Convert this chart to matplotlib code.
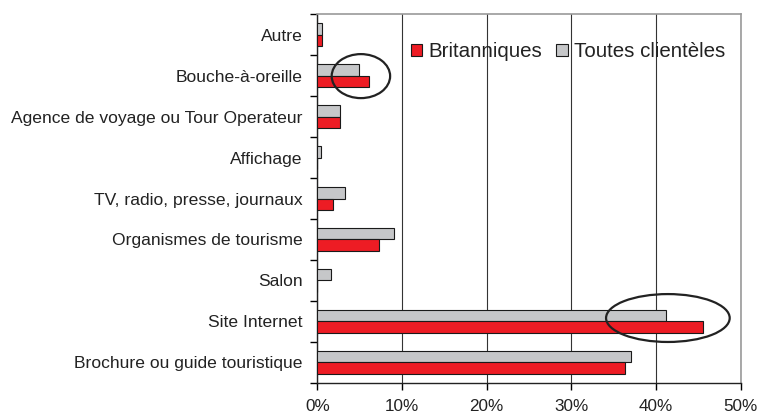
import matplotlib
matplotlib.use("Agg")
import matplotlib.pyplot as plt
from matplotlib.patches import Ellipse, Rectangle
from matplotlib.ticker import FuncFormatter
import numpy as np

plt.rcParams['font.family'] = ['Liberation Sans', 'DejaVu Sans']
plt.rcParams['text.color'] = '#222222'
plt.rcParams['xtick.labelcolor'] = '#222222'
plt.rcParams['ytick.labelcolor'] = '#222222'

categories = ["Brochure ou guide touristique", "Site Internet", "Salon",
              "Organismes de tourisme", "TV, radio, presse, journaux",
              "Affichage", "Agence de voyage ou Tour Operateur",
              "Bouche-à-oreille", "Autre"]
britanniques = [36.3, 45.5, 0.0, 7.3, 1.8, 0.0, 2.7, 6.1, 0.6]
toutes = [37.0, 41.2, 1.6, 9.0, 3.3, 0.45, 2.7, 4.9, 0.6]
xticks = [0, 10, 20, 30, 40, 50]

RED = '#ED1C24'
GREY = '#C6C7C9'

fig = plt.figure(figsize=(7.58, 4.17), dpi=100)
ax = fig.add_axes([317.3/758, 1-382.7/417, (740.7-317.3)/758, (382.7-14.3)/417])

y = np.arange(len(categories))
h = 0.28
ax.barh(y + h/2, toutes, height=h, color=GREY, edgecolor='#1a1a1a', linewidth=0.8, zorder=3)
ax.barh(y - h/2, britanniques, height=h, color=RED, edgecolor='#1a1a1a', linewidth=0.8, zorder=3)

ax.set_xlim(0, 50)
ax.set_ylim(-0.5, len(categories) - 0.5)
ax.set_xticks(xticks)
ax.xaxis.set_major_formatter(FuncFormatter(lambda v, p: f"{int(v)}%"))
ax.set_yticks(y)
ax.set_yticklabels(categories)
ax.set_yticks(np.arange(-0.5, len(categories), 1), minor=True)
ax.tick_params(axis='y', which='major', length=0, labelsize=12.6, pad=10.5)
ax.tick_params(axis='y', which='minor', length=5, width=1, direction='out')
ax.tick_params(axis='x', which='major', length=5, width=1, direction='out', labelsize=12.3, pad=7)
ax.grid(axis='x', color='#333333', linewidth=0.8, zorder=0)

for s in ['left', 'bottom']:
    ax.spines[s].set_color('#222222')
    ax.spines[s].set_linewidth(1.0)
for s in ['top', 'right']:
    ax.spines[s].set_color('#999999')
    ax.spines[s].set_linewidth(1.2)

ax.add_patch(Ellipse((5.15, 6.99), 6.9, 1.075, fill=False, edgecolor='#222222', linewidth=1.6, zorder=5))
ax.add_patch(Ellipse((41.4, 1.08), 14.6, 1.17, fill=False, edgecolor='#222222', linewidth=1.6, zorder=5))

handles = [Rectangle((0, 0), 1, 1, facecolor=RED, edgecolor='#1a1a1a', linewidth=0.8),
           Rectangle((0, 0), 1, 1, facecolor=GREY, edgecolor='#1a1a1a', linewidth=0.8)]
leg = ax.legend(handles, ["Britanniques", "Toutes clientèles"], ncol=2, frameon=False,
                loc='center left', bbox_to_anchor=(0.221, 0.898), fontsize=14.8,
                handlelength=0.55, handleheight=0.55, handletextpad=0.3, columnspacing=0.7,
                borderaxespad=0, borderpad=0)
leg.set_zorder(6)

fig.savefig("out.png", dpi=100)
